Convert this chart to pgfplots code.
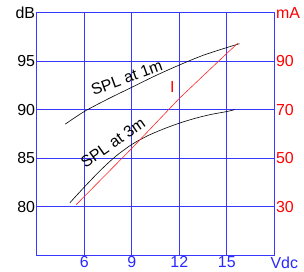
\documentclass[border=0pt]{standalone}
\usepackage{pgfplots}
\pgfplotsset{compat=1.18}
\usepackage{fontspec}
\setmainfont{Liberation Sans}
\usetikzlibrary{calc}
\definecolor{gridblue}{RGB}{55,55,255}
\definecolor{tickblue}{RGB}{40,40,255}
\definecolor{ired}{RGB}{255,40,40}
\begin{document}
\begin{tikzpicture}
\pgfplotsset{every axis/.append style={
  scale only axis, width=237.6bp, height=242.3bp, xmin=3, xmax=18,
  /pgf/number format/assume math mode=true,
  tick label style={font=\fontsize{16}{19}\selectfont, inner sep=1.5bp},
  major tick length=0pt,
  axis line style={gridblue, line width=0.8bp},
}}
\begin{axis}[
  ymin=75, ymax=100,
  xtick={6,9,12,15}, xticklabels={6,9,12,15},
  extra x ticks={18}, extra x tick labels={Vdc},
  extra x tick style={xticklabel style={xshift=10bp}},
  ytick={80,85,90,95,100}, yticklabels={80,85,90,95,dB},
  grid=major, grid style={gridblue, line width=0.8bp},
  xticklabel style={text=tickblue},
  yticklabel style={text=black},
]
\addplot[black, line width=0.6bp, smooth, no markers] coordinates {
(4.8,88.5) (6,89.8) (7.5,91.1) (9,92.3) (10.5,93.5) (12,94.6) (13.5,95.6) (15,96.4) (15.8,96.8)};
\addplot[black, line width=0.6bp, smooth, no markers] coordinates {
(5.1,80.4) (6,82.0) (7,83.7) (8,85.2) (9,86.4) (10,87.3) (11,88.0) (12,88.6) (13,89.1) (14,89.5) (15,89.8) (15.5,90.0)};
\node[rotate=20, font=\fontsize{16}{19}\selectfont] at (axis cs:8.69,93.28) {SPL at 1m};
\node[rotate=35, font=\fontsize{16}{19}\selectfont] at (axis cs:7.81,86.6) {SPL at 3m};
\end{axis}
\begin{axis}[
  ymin=10, ymax=110,
  hide x axis, axis y line*=right,
  ytick={30,50,70,90,110}, yticklabels={30,50,70,90,mA},
  yticklabel style={text=red},
]
\addplot[ired, line width=0.6bp, no markers] coordinates {
(5.5,30.8) (9,54) (12,74.6) (15,93.2) (15.7,97.4)};
\node[text=red, font=\fontsize{16}{19}\selectfont] at (axis cs:11.57,79.2) {I};
\end{axis}
\pgfresetboundingbox
\path[use as bounding box] ($(current axis.south west)+(-36.7bp,-17bp)$) rectangle ($(current axis.north east)+(29.7bp,12.7bp)$);
\end{tikzpicture}
\end{document}
